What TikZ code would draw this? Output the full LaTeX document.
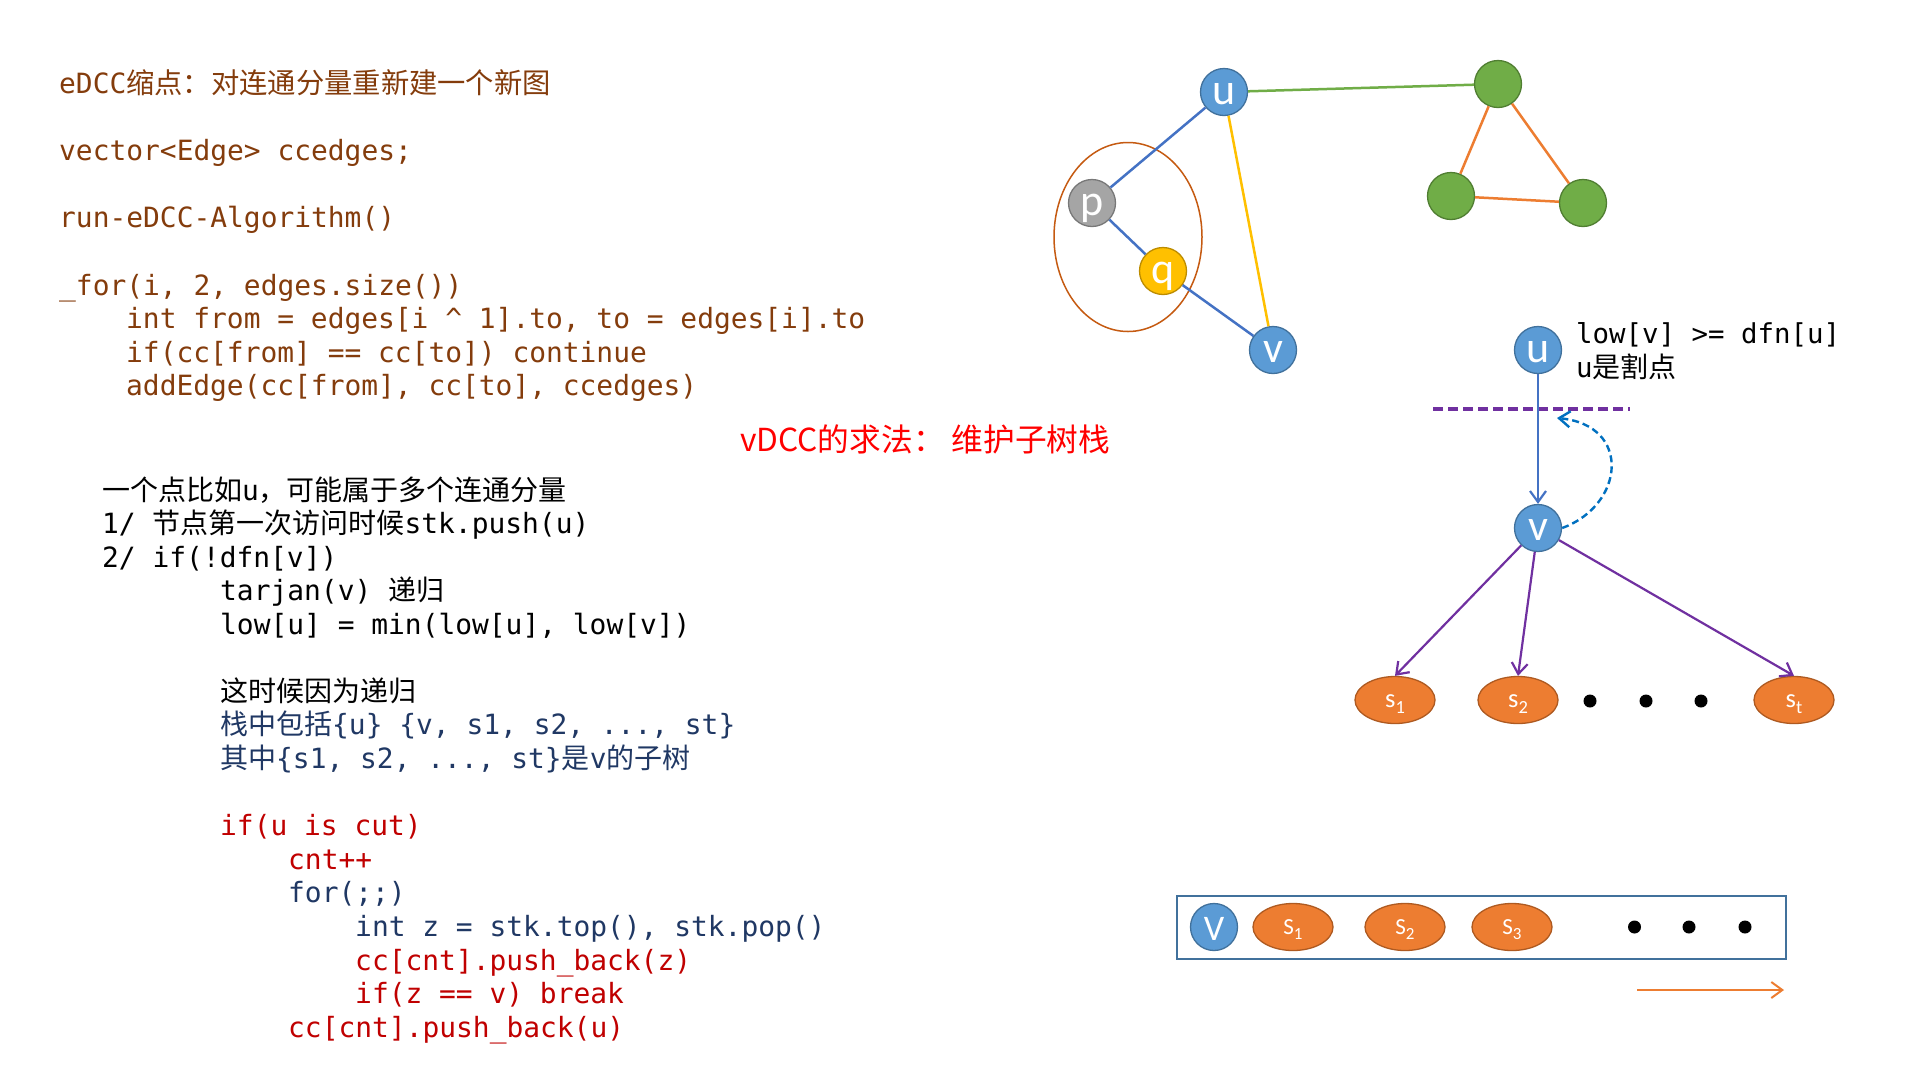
\documentclass[tikz,border=0pt]{standalone}
\usepackage{fontspec}
\setmainfont{Carlito}
\newfontfamily\codefont{DejaVu Sans Mono}
\newfontfamily\cjk{Noto Sans CJK SC}
\usetikzlibrary{arrows.meta,shapes.geometric}

\definecolor{nodeblue}{HTML}{5B9BD5}
\definecolor{nodeblueline}{HTML}{41719C}
\definecolor{edgeblue}{HTML}{4472C4}
\definecolor{goldfill}{HTML}{FFC000}
\definecolor{goldline}{HTML}{BC8C00}
\definecolor{grayfill}{HTML}{A5A5A5}
\definecolor{grayline}{HTML}{787878}
\definecolor{leaffill}{HTML}{70AD47}
\definecolor{leafline}{HTML}{507E32}
\definecolor{tangerine}{HTML}{ED7D31}
\definecolor{tangerineline}{HTML}{AE5A21}
\definecolor{rustline}{HTML}{C55A11}
\definecolor{purpleline}{HTML}{7030A0}
\definecolor{azureline}{HTML}{0070C0}
\definecolor{brownink}{HTML}{843C0C}
\definecolor{navyink}{HTML}{203864}
\definecolor{redink}{HTML}{C00000}
\definecolor{titlered}{HTML}{FF0000}

% Chinese inside code lines, at a given size
\newcommand\zh[2][28]{{\cjk\fontsize{#1}{33.6}\selectfont #2}}

\begin{document}
\begin{tikzpicture}[x=1pt,y=-1pt,
  >={Straight Barb[length=11pt,width=16pt]},
  vert/.style={circle, minimum size=47pt, inner sep=0pt, line width=1.3pt,
    text=white, font=\fontsize{44}{44}\selectfont, text height=24.6pt, text depth=0pt},
  bluevert/.style={vert, fill=nodeblue, draw=nodeblueline},
  grayvert/.style={vert, fill=grayfill, draw=grayline},
  goldvert/.style={vert, fill=goldfill, draw=goldline},
  greenvert/.style={vert, fill=leaffill, draw=leafline},
  subtree/.style={ellipse, minimum width=80pt, minimum height=47pt, inner sep=0pt,
    fill=tangerine, draw=tangerineline, line width=1.3pt, text=white,
    font=\fontsize{26.5}{26.5}\selectfont, text height=20.3pt, text depth=6pt},
  stackitem/.style={subtree, font=\fontsize{23}{23}\selectfont,
    text height=20.8pt, text depth=5pt},
  dot/.style={circle, fill=black, minimum size=13pt, inner sep=0pt},
  edge/.style={line width=2.5pt},
  treearrow/.style={line width=2.2pt, ->},
  codeA/.style={anchor=base west, inner sep=0pt, text=brownink,
    font=\codefont\fontsize{27.9}{33.6}\selectfont},
  codeB/.style={anchor=base west, inner sep=0pt,
    font=\codefont\fontsize{27.9}{33.6}\selectfont},
]
\path[fill=white] (0,0) rectangle (1920,1080);
\useasboundingbox (0,0) rectangle (1920,1080);

% ---------- eDCC code ----------
\node[codeA] (a0) at (59,93) {eDCC\zh[28.3]{缩点：对连通分量重新建一个新图}};
\node[codeA] (a1) at (59,160) {vector<Edge> ccedges;};
\node[codeA] (a2) at (59,227) {run-eDCC-Algorithm()};
\node[codeA] (a3) at (59,295) {\_for(i, 2, edges.size())};
\node[codeA] (a4) at (126,328) {int from = edges[i \textasciicircum{} 1].to, to = edges[i].to};
\node[codeA] (a5) at (126,362) {if(cc[from] == cc[to]) continue};
\node[codeA] (a6) at (126,395) {addEdge(cc[from], cc[to], ccedges)};

% ---------- title ----------
\node[anchor=base west, inner sep=0pt, text=titlered,
  font=\cjk\fontsize{31.7}{31.7}\selectfont] (title) at (740,451) {vDCC的求法： 维护子树栈};

% ---------- vDCC code ----------
\node[codeB] (b0) at (102,500) {\zh{一个点比如}u\zh{，可能属于多个连通分量}};
\node[codeB] (b1) at (102,533.6) {1/ \zh{节点第一次访问时候}stk.push(u)};
\node[codeB] (b2) at (102,567) {2/ if(!dfn[v])};
\node[codeB] (b3) at (220,600.6) {tarjan(v) \zh{递归}};
\node[codeB] (b4) at (220,634) {low[u] = min(low[u], low[v])};
\node[codeB] (b5) at (220,701) {\zh{这时候因为递归}};
\node[codeB, text=navyink] (b6) at (220,734.6) {\zh{栈中包括}\{u\} \{v, s1, s2, ..., st\}};
\node[codeB, text=navyink] (b7) at (220,768) {\zh{其中}\{s1, s2, ..., st\}\zh{是}v\zh{的子树}};
\node[codeB, text=redink] (b8) at (220,835.4) {if(u is cut)};
\node[codeB, text=redink] (b9) at (288,869) {cnt++};
\node[codeB, text=navyink] (b10) at (288,902.6) {for(;;)};
\node[codeB, text=navyink] (b11) at (355,936) {int z = stk.top(), stk.pop()};
\node[codeB, text=redink] (b12) at (355,970) {cc[cnt].push\_back(z)};
\node[codeB, text=redink] (b13) at (355,1003.6) {if(z == v) break};
\node[codeB, text=redink] (b14) at (288,1037) {cc[cnt].push\_back(u)};

% ---------- example graph ----------
\node[ellipse, draw=rustline, line width=1.5pt, minimum width=148pt,
  minimum height=189pt, inner sep=0pt] (grp) at (1128,237) {};
\node[bluevert] (gu) at (1224,92) {u};
\node[grayvert] (gp) at (1092,203) {p};
\node[goldvert] (gq) at (1163,271) {q};
\node[bluevert] (gv) at (1273,350) {v};
\node[greenvert] (g1) at (1498,84) {};
\node[greenvert] (g2) at (1451,196) {};
\node[greenvert] (g3) at (1583,203) {};
\draw[edge, edgeblue] (gu) -- (gp);
\draw[edge, edgeblue] (gp) -- (gq);
\draw[edge, edgeblue] (gq) -- (gv);
\draw[edge, goldfill] (gu) -- (gv);
\draw[edge, leaffill] (gu) -- (g1);
\draw[edge, tangerine] (g1) -- (g2);
\draw[edge, tangerine] (g1) -- (g3);
\draw[edge, tangerine] (g2) -- (g3);

% ---------- cut vertex and its subtrees ----------
\node[bluevert] (tu) at (1538,350) {u};
\node[bluevert] (tv) at (1538,528) {v};
\node[codeB, font=\codefont\fontsize{27.4}{33}\selectfont] (cond) at (1576,343) {low[v] >= dfn[u]};
\node[codeB, font=\codefont\fontsize{27.4}{33}\selectfont] (cutnote) at (1576,377) {u\zh{是割点}};
\coordinate (cutL) at (1433,409);
\coordinate (cutR) at (1630,409);
\draw[purpleline, line width=3.2pt, dash pattern=on 10pt off 5pt] (cutL) -- (cutR);
\draw[treearrow, edgeblue] (tu) -- (tv);
\coordinate (lowtip) at (1557,418);
\draw[azureline, line width=2.4pt, dash pattern=on 7pt off 4pt, ->]
  (tv.east) .. controls (1625,505) and (1632,425) .. (lowtip);

\node[subtree] (s1) at (1395,700) {s\raisebox{-6pt}{\fontsize{18.5}{18.5}\selectfont 1}};
\node[subtree] (s2) at (1518,700) {s\raisebox{-6pt}{\fontsize{18.5}{18.5}\selectfont 2}};
\node[subtree] (st) at (1794,700) {s\raisebox{-6pt}{\fontsize{18.5}{18.5}\selectfont t}};
\node[dot] (d1) at (1590,701) {};
\node[dot] (d2) at (1646,701) {};
\node[dot] (d3) at (1701,701) {};
\draw[treearrow, purpleline] (tv) -- (s1.north);
\draw[treearrow, purpleline] (tv) -- (s2.north);
\draw[treearrow, purpleline] (tv) -- (st.north);

% ---------- stack ----------
\node[draw=nodeblueline, line width=2pt, minimum width=609pt, minimum height=63pt,
  inner sep=0pt] (stackbox) at (1481.5,927.5) {};
\node[bluevert, font=\fontsize{36}{36}\selectfont, text height=26.5pt] (kv) at (1214,927) {V};
\node[stackitem] (k1) at (1293,927) {S\raisebox{-5pt}{\fontsize{17}{17}\selectfont 1}};
\node[stackitem] (k2) at (1405,927) {S\raisebox{-5pt}{\fontsize{17}{17}\selectfont 2}};
\node[stackitem] (k3) at (1512,927) {S\raisebox{-5pt}{\fontsize{17}{17}\selectfont 3}};
\node[dot] (e1) at (1634.5,927) {};
\node[dot] (e2) at (1689,927) {};
\node[dot] (e3) at (1745,927) {};
\coordinate (dirA) at (1637,990);
\coordinate (dirB) at (1784,990);
\draw[tangerine, line width=2pt, ->] (dirA) -- (dirB);
\end{tikzpicture}
\end{document}
